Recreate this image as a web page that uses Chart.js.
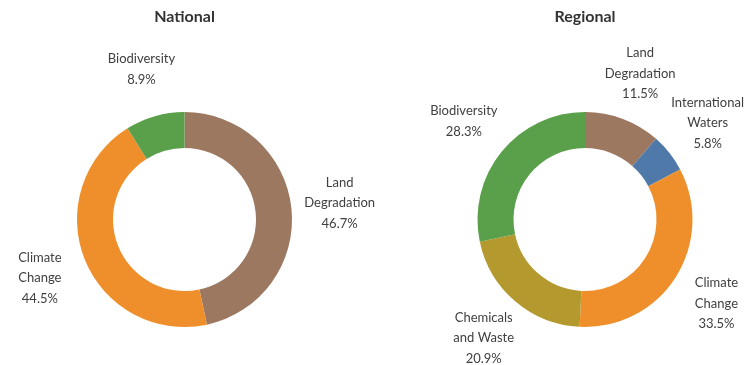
<!DOCTYPE html>
<html>
<head>
<meta charset="utf-8">
<script src="https://cdn.jsdelivr.net/npm/chart.js@4.4.0/dist/chart.umd.min.js"></script>
<style>
  html, body { margin: 0; padding: 0; background: #fff; }
  #wrap { position: relative; width: 747px; height: 365px; overflow: hidden; }
  #natBox { position: absolute; left: 0; top: 0; width: 420px; height: 365px; }
  #regBox { position: absolute; left: 373px; top: 0; width: 374px; height: 365px; }
</style>
</head>
<body>
<div id="wrap">
  <div id="natBox"><canvas id="chartNational"></canvas></div>
  <div id="regBox"><canvas id="chartRegional"></canvas></div>
</div>
<script>
// Data
var nationalLabels = [['Land', 'Degradation'], ['Climate', 'Change'], ['Biodiversity']];
var nationalValues = [46.7, 44.5, 8.9];
var nationalColors = ['#9c7860', '#ef8f2b', '#5aa04b'];

var regionalLabels = [['Land', 'Degradation'], ['International', 'Waters'], ['Climate', 'Change'], ['Chemicals', 'and Waste'], ['Biodiversity']];
var regionalValues = [11.5, 5.8, 33.5, 20.9, 28.3];
var regionalColors = ['#9c7860', '#4e79a9', '#ef8f2b', '#b4992f', '#5aa04b'];

var FONT = 'Lato, "Open Sans", sans-serif';
var TEXT = '#404040';

// draws each slice's name + value outside the ring, along the slice's mid angle
var outsideLabels = {
    id: 'outsideLabels',
    afterDatasetsDraw: function(chart) {
        var ctx = chart.ctx;
        var meta = chart.getDatasetMeta(0);
        var ds = chart.data.datasets[0];
        ctx.save();
        ctx.font = '13px ' + FONT;
        ctx.fillStyle = TEXT;
        ctx.textAlign = 'center';
        ctx.textBaseline = 'middle';
        meta.data.forEach(function(arc, i) {
            var mid = (arc.startAngle + arc.endAngle) / 2;
            var dist = arc.outerRadius + 48.5;
            var x = arc.x + Math.cos(mid) * dist;
            var y = arc.y + Math.sin(mid) * dist;
            var lines = chart.data.labels[i].concat([ds.data[i].toFixed(1) + '%']);
            var lh = 20.5;
            var y0 = y - (lines.length - 1) * lh / 2;
            lines.forEach(function(t, k) {
                ctx.fillText(t, x, y0 + k * lh);
            });
        });
        ctx.restore();
    }
};

function makeDonut(id, title, labels, values, colors, padLeft, padRight) {
    return new Chart(document.getElementById(id), {
        type: 'doughnut',
        data: {
            labels: labels,
            datasets: [{
                data: values,
                backgroundColor: colors,
                borderWidth: 0
            }]
        },
        options: {
            responsive: true,
            maintainAspectRatio: false,
            animation: false,
            cutout: '66.5%',
            layout: { padding: { left: padLeft, right: padRight, top: 0, bottom: 38 } },
            plugins: {
                legend: { display: false },
                tooltip: { enabled: false },
                title: {
                    display: true,
                    text: title,
                    color: '#333333',
                    font: { family: FONT, size: 16, weight: 'bold', lineHeight: 1.2 },
                    padding: { top: 7.5, bottom: 85.3 }
                }
            }
        },
        plugins: [outsideLabels]
    });
}

makeDonut('chartNational', 'National', nationalLabels, nationalValues, nationalColors, 0, 51);
makeDonut('chartRegional', 'Regional', regionalLabels, regionalValues, regionalColors, 50, 0);
</script>
</body>
</html>
